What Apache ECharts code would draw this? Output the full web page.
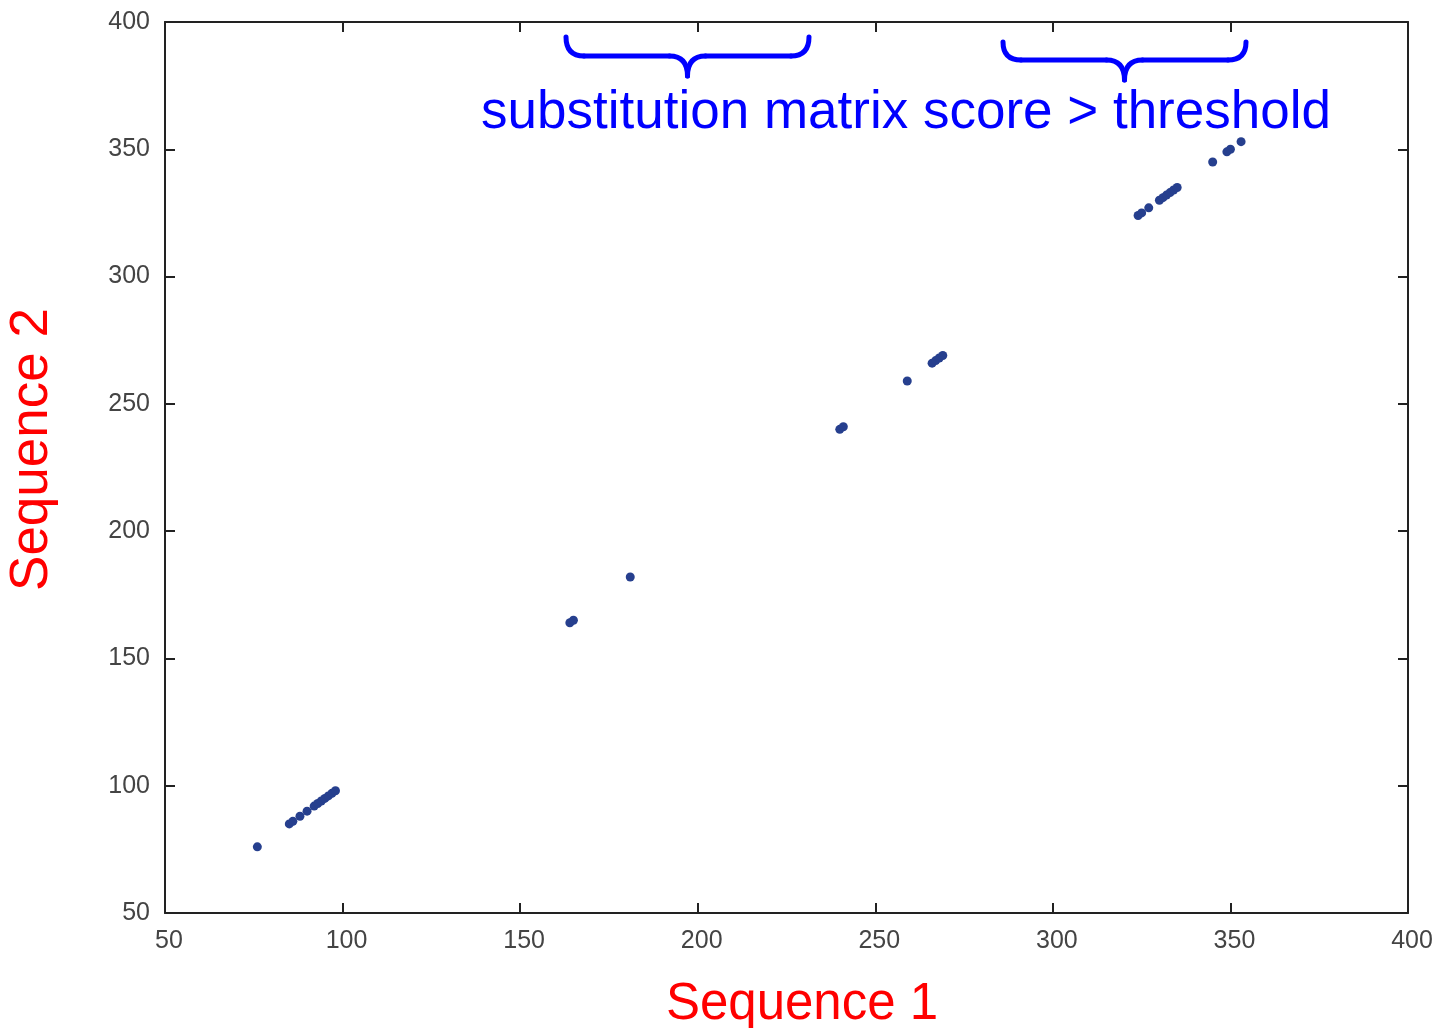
<!DOCTYPE html>
<html>
<head>
<meta charset="utf-8">
<script src="https://cdn.jsdelivr.net/npm/echarts@6/dist/echarts.min.js"></script>
<style>
  html, body { margin: 0; padding: 0; background: #fff; }
  #chart { width: 1438px; height: 1028px; }
</style>
</head>
<body>
<div id="chart"></div>
<script>
// matching residues found in the dot plot (sequence 1 position, sequence 2 position)
var seq1 = [76, 85, 86, 88, 90, 92, 93, 94, 95, 96, 97, 98,
  164, 165, 181, 240, 241, 259, 266, 267, 268, 269,
  324, 325, 327, 330, 331, 332, 333, 334, 335, 345, 349, 350, 353];
var seq2 = [76, 85, 86, 88, 90, 92, 93, 94, 95, 96, 97, 98,
  164, 165, 182, 240, 241, 259, 266, 267, 268, 269,
  324, 325, 327, 330, 331, 332, 333, 334, 335, 345, 349, 350, 353];
var axisMin = 50;
var axisMax = 400;
var axisStep = 50;

var chart = echarts.init(document.getElementById('chart'));

var points = [];
for (var i = 0; i < seq1.length; i++) {
  points.push([seq1[i], seq2[i]]);
}

var lineColor = '#222';
var labelStyle = {
  color: '#444',
  fontSize: 25,
  fontFamily: 'Liberation Sans, Arial, sans-serif'
};

// curly brace built from lines and curves, ends at top, tip pointing down
function brace(x1, x2, top, mid, tip) {
  var c = (x1 + x2) / 2;
  var r = 18;
  var st = { stroke: '#0000ff', lineWidth: 5, lineCap: 'round', fill: null };
  return {
    type: 'group',
    children: [
      { type: 'bezierCurve', shape: { x1: x1, y1: top, cpx1: x1, cpy1: mid, x2: x1 + r, y2: mid }, style: st },
      { type: 'line', shape: { x1: x1 + r, y1: mid, x2: c - r, y2: mid }, style: st },
      { type: 'bezierCurve', shape: { x1: c - r, y1: mid, cpx1: c, cpy1: mid, x2: c, y2: tip }, style: st },
      { type: 'bezierCurve', shape: { x1: c, y1: tip, cpx1: c, cpy1: mid, x2: c + r, y2: mid }, style: st },
      { type: 'line', shape: { x1: c + r, y1: mid, x2: x2 - r, y2: mid }, style: st },
      { type: 'bezierCurve', shape: { x1: x2 - r, y1: mid, cpx1: x2, cpy1: mid, x2: x2, y2: top }, style: st }
    ]
  };
}

var option = {
  backgroundColor: '#fff',
  animation: false,
  grid: {
    left: 165,
    right: 30,
    top: 22,
    bottom: 115,
    outerBoundsMode: 'none',
    containLabel: false
  },
  xAxis: [
    {
      type: 'value',
      min: axisMin,
      max: axisMax,
      interval: axisStep,
      name: 'Sequence 1',
      nameLocation: 'middle',
      nameGap: 66,
      nameTextStyle: {
        color: '#ff0000',
        fontSize: 51,
        fontFamily: 'Liberation Sans, Arial, sans-serif',
        padding: [0, 0, 0, 31]
      },
      axisLine: { lineStyle: { color: lineColor, width: 2 } },
      axisTick: { inside: true, length: 10, lineStyle: { color: lineColor, width: 2 } },
      axisLabel: Object.assign({ margin: 16, padding: [0, 0, 0, 8] }, labelStyle),
      splitLine: { show: false }
    },
    {
      type: 'value',
      position: 'top',
      min: axisMin,
      max: axisMax,
      interval: axisStep,
      axisLine: { show: true, lineStyle: { color: lineColor, width: 2 } },
      axisTick: { inside: true, length: 10, lineStyle: { color: lineColor, width: 2 } },
      axisLabel: { show: false },
      splitLine: { show: false }
    }
  ],
  yAxis: [
    {
      type: 'value',
      min: axisMin,
      max: axisMax,
      interval: axisStep,
      name: 'Sequence 2',
      nameLocation: 'middle',
      nameGap: 106,
      nameTextStyle: {
        color: '#ff0000',
        fontSize: 53,
        fontFamily: 'Liberation Sans, Arial, sans-serif',
        padding: [0, 0, 0, 36]
      },
      axisLine: { show: true, lineStyle: { color: lineColor, width: 2 } },
      axisTick: { show: true, inside: true, length: 10, lineStyle: { color: lineColor, width: 2 } },
      axisLabel: Object.assign({ margin: 15 }, labelStyle),
      splitLine: { show: false }
    },
    {
      type: 'value',
      position: 'right',
      min: axisMin,
      max: axisMax,
      interval: axisStep,
      axisLine: { show: true, lineStyle: { color: lineColor, width: 2 } },
      axisTick: { show: true, inside: true, length: 10, lineStyle: { color: lineColor, width: 2 } },
      axisLabel: { show: false },
      splitLine: { show: false }
    }
  ],
  series: [
    {
      type: 'scatter',
      xAxisIndex: 0,
      yAxisIndex: 0,
      symbolSize: 9,
      itemStyle: { color: '#263f8e', opacity: 1 },
      data: points
    }
  ],
  graphic: [
    brace(566, 809, 37, 56, 76),
    brace(1003, 1246, 42, 60, 80),
    {
      type: 'text',
      x: 906,
      y: 113,
      style: {
        text: 'substitution matrix score > threshold',
        fill: '#0000ff',
        fontSize: 53,
        fontFamily: 'Liberation Sans, Arial, sans-serif',
        align: 'center',
        verticalAlign: 'middle'
      }
    }
  ]
};

chart.setOption(option);
</script>
</body>
</html>
